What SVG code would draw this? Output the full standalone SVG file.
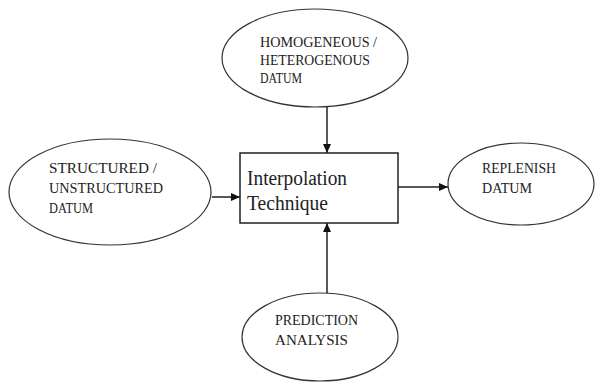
<svg xmlns="http://www.w3.org/2000/svg" width="595" height="383" viewBox="0 0 595 383">
<style>
.node ellipse{fill:#fff;stroke:#333;stroke-width:1.2}
.node rect{fill:#fff;stroke:#222;stroke-width:1.5}
.cap{font-family:"Liberation Serif","Times New Roman",serif;font-size:14px;fill:#222}
.box{font-family:"Liberation Serif","Times New Roman",serif;font-size:20px;fill:#222}
.conn line{stroke:#222;stroke-width:1.5;marker-end:url(#ah)}
</style>
<defs>
<marker id="ah" markerWidth="10" markerHeight="10" refX="9" refY="5" orient="auto" markerUnits="userSpaceOnUse">
<path d="M0,1 L9,5 L0,9 Z" fill="#111"/>
</marker>
</defs>
<rect width="595" height="383" fill="#fff"/>
<g class="conn">
<line x1="327" y1="107" x2="327" y2="153"/>
<line x1="212" y1="197" x2="240" y2="197"/>
<line x1="398" y1="187" x2="448" y2="187"/>
<line x1="327" y1="293" x2="327" y2="223"/>
</g>
<g id="homogeneous" class="node">
<ellipse cx="315" cy="58" rx="93" ry="49"/>
<text class="cap" x="260" y="47" textLength="117" lengthAdjust="spacingAndGlyphs">HOMOGENEOUS /</text>
<text class="cap" x="260" y="65" textLength="110" lengthAdjust="spacingAndGlyphs">HETEROGENOUS</text>
<text class="cap" x="260" y="83" textLength="42" lengthAdjust="spacingAndGlyphs">DATUM</text>
</g>
<g id="structured" class="node">
<ellipse cx="110" cy="192" rx="101" ry="53"/>
<text class="cap" x="49" y="173" textLength="108" lengthAdjust="spacingAndGlyphs">STRUCTURED /</text>
<text class="cap" x="49" y="193" textLength="114" lengthAdjust="spacingAndGlyphs">UNSTRUCTURED</text>
<text class="cap" x="49" y="213" textLength="44" lengthAdjust="spacingAndGlyphs">DATUM</text>
</g>
<g id="interpolation" class="node">
<rect x="240" y="153" width="158" height="70"/>
<text class="box" x="247" y="185" textLength="100" lengthAdjust="spacingAndGlyphs">Interpolation</text>
<text class="box" x="247" y="210" textLength="81" lengthAdjust="spacingAndGlyphs">Technique</text>
</g>
<g id="replenish" class="node">
<ellipse cx="521" cy="184" rx="73" ry="41"/>
<text class="cap" x="482" y="173" textLength="74" lengthAdjust="spacingAndGlyphs">REPLENISH</text>
<text class="cap" x="482" y="193" textLength="50" lengthAdjust="spacingAndGlyphs">DATUM</text>
</g>
<g id="prediction" class="node">
<ellipse cx="320" cy="337" rx="78" ry="44"/>
<text class="cap" x="275" y="325" textLength="83" lengthAdjust="spacingAndGlyphs">PREDICTION</text>
<text class="cap" x="275" y="345" textLength="73" lengthAdjust="spacingAndGlyphs">ANALYSIS</text>
</g>
</svg>
